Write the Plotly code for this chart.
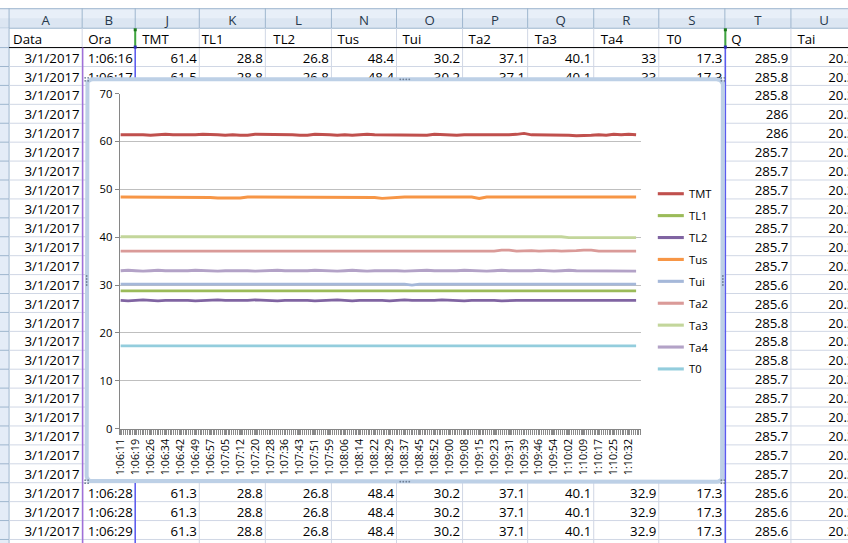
import numpy as np
import plotly.graph_objects as go

W, H = 848, 543

# ---------------- chart data ----------------
tick_labels = ["1:06:11", "1:06:19", "1:06:26", "1:06:34", "1:06:42", "1:06:49", "1:06:57",
               "1:07:05", "1:07:12", "1:07:20", "1:07:28", "1:07:36", "1:07:43", "1:07:51",
               "1:07:59", "1:08:06", "1:08:14", "1:08:22", "1:08:29", "1:08:37", "1:08:45",
               "1:08:52", "1:09:00", "1:09:08", "1:09:15", "1:09:23", "1:09:31", "1:09:39",
               "1:09:46", "1:09:54", "1:10:02", "1:10:09", "1:10:17", "1:10:25", "1:10:32"]
n_categories = 279      # one category per logged row
label_every = 8         # Excel shows every 8th category label
sample_every = 4        # values every 4th category

TMT = [61.4, 61.4, 61.5, 61.4, 61.3, 61.4, 61.5, 61.4, 61.4, 61.3,
       61.4, 61.5, 61.5, 61.4, 61.3, 61.4, 61.3, 61.3, 61.5, 61.5,
       61.4, 61.4, 61.5, 61.4, 61.3, 61.3, 61.5, 61.5, 61.4, 61.3,
       61.4, 61.3, 61.4, 61.5, 61.4, 61.4, 61.3, 61.4, 61.4, 61.4,
       61.3, 61.3, 61.5, 61.4, 61.3, 61.3, 61.4, 61.4, 61.3, 61.3,
       61.3, 61.3, 61.4, 61.5, 61.7, 61.4, 61.4, 61.3, 61.3, 61.3,
       61.3, 61.2, 61.2, 61.3, 61.4, 61.3, 61.5, 61.4, 61.5, 61.4]
TL1 = [28.8, 28.8, 28.9, 28.8, 28.8, 28.8, 28.9, 28.8, 28.8, 28.8,
       28.8, 28.8, 28.8, 28.8, 28.8, 28.8, 28.8, 28.8, 28.8, 28.8,
       28.8, 28.8, 28.8, 28.8, 28.8, 28.8, 28.8, 28.8, 28.8, 28.8,
       28.8, 28.8, 28.8, 28.8, 28.8, 28.8, 28.9, 28.8, 28.8, 28.8,
       28.8, 28.8, 28.8, 28.8, 28.8, 28.8, 28.9, 28.8, 28.8, 28.8,
       28.8, 28.8, 28.8, 28.8, 28.8, 28.9, 28.8, 28.8, 28.8, 28.8,
       28.8, 28.8, 28.8, 28.8, 28.9, 28.8, 28.8, 28.9, 28.8, 28.8]
TL2 = [26.8, 26.7, 26.8, 26.9, 26.8, 26.7, 26.8, 26.8, 26.9, 26.8,
       26.7, 26.8, 26.8, 26.9, 26.8, 26.8, 26.7, 26.8, 26.9, 26.8,
       26.8, 26.7, 26.8, 26.8, 26.9, 26.8, 26.7, 26.8, 26.8, 26.9,
       26.8, 26.7, 26.8, 26.8, 26.9, 26.8, 26.7, 26.8, 26.9, 26.8,
       26.8, 26.7, 26.8, 26.9, 26.8, 26.8, 26.7, 26.8, 26.8, 26.9,
       26.8, 26.7, 26.8, 26.8, 26.8, 26.8, 26.8, 26.8, 26.8, 26.8,
       26.8, 26.8, 26.8, 26.8, 26.8, 26.8, 26.8, 26.7, 26.7, 26.8]
Tus = [48.4, 48.4, 48.4, 48.4, 48.4, 48.4, 48.4, 48.4, 48.4, 48.4,
       48.4, 48.4, 48.3, 48.2, 48.2, 48.2, 48.2, 48.4, 48.4, 48.4,
       48.4, 48.4, 48.4, 48.4, 48.4, 48.4, 48.4, 48.4, 48.4, 48.3,
       48.3, 48.3, 48.3, 48.3, 48.3, 48.1, 48.2, 48.4, 48.4, 48.4,
       48.4, 48.4, 48.4, 48.4, 48.4, 48.4, 48.4, 48.4, 48.1, 48.4,
       48.4, 48.4, 48.4, 48.4, 48.4, 48.4, 48.4, 48.4, 48.4, 48.4,
       48.4, 48.4, 48.4, 48.4, 48.4, 48.4, 48.4, 48.4, 48.4, 48.4]
Tui = [30.2, 30.2, 30.2, 30.2, 30.2, 30.2, 30.2, 30.2, 30.2, 30.2,
       30.2, 30.2, 30.2, 30.2, 30.2, 30.2, 30.2, 30.2, 30.2, 30.2,
       30.2, 30.2, 30.2, 30.2, 30.2, 30.2, 30.2, 30.2, 30.2, 30.2,
       30.2, 30.2, 30.2, 30.2, 30.2, 30.2, 30.2, 30.2, 30.2, 30.0,
       30.2, 30.2, 30.2, 30.2, 30.2, 30.2, 30.2, 30.2, 30.2, 30.2,
       30.2, 30.2, 30.2, 30.2, 30.2, 30.2, 30.2, 30.2, 30.2, 30.2,
       30.2, 30.2, 30.2, 30.2, 30.2, 30.2, 30.2, 30.2, 30.2, 30.2]
Ta2 = [37.1, 37.1, 37.1, 37.1, 37.1, 37.1, 37.1, 37.1, 37.1, 37.1,
       37.1, 37.1, 37.1, 37.1, 37.1, 37.1, 37.1, 37.0, 37.1, 37.1,
       37.1, 37.1, 37.1, 37.1, 37.1, 37.1, 37.1, 37.1, 37.1, 37.1,
       37.1, 37.1, 37.1, 37.1, 37.1, 37.1, 37.1, 37.1, 37.1, 37.1,
       37.1, 37.1, 37.1, 37.1, 37.1, 37.1, 37.1, 37.1, 37.1, 37.1,
       37.1, 37.3, 37.3, 37.1, 37.2, 37.2, 37.1, 37.2, 37.2, 37.1,
       37.1, 37.2, 37.3, 37.3, 37.1, 37.1, 37.1, 37.1, 37.1, 37.1]
Ta3 = [40.1, 40.1, 40.1, 40.1, 40.1, 40.1, 40.1, 40.1, 40.1, 40.1,
       40.1, 40.1, 40.1, 40.1, 40.1, 40.1, 40.1, 40.1, 40.1, 40.1,
       40.1, 40.1, 40.1, 40.1, 40.1, 40.1, 40.1, 40.1, 40.1, 40.1,
       40.1, 40.1, 40.1, 40.1, 40.1, 40.1, 40.1, 40.1, 40.1, 40.1,
       40.1, 40.1, 40.1, 40.1, 40.1, 40.1, 40.1, 40.1, 40.1, 40.1,
       40.1, 40.1, 40.1, 40.1, 40.1, 40.1, 40.1, 40.1, 40.0, 40.1,
       39.9, 39.9, 39.9, 39.9, 39.9, 39.9, 39.9, 39.9, 39.9, 39.9]
Ta4 = [33.0, 33.1, 33.0, 32.9, 33.0, 33.1, 33.0, 33.0, 32.9, 33.0,
       33.1, 33.0, 33.0, 32.9, 33.0, 33.0, 33.1, 33.0, 32.9, 33.0,
       33.0, 33.1, 33.0, 33.0, 32.9, 33.0, 33.1, 33.0, 33.0, 32.9,
       33.0, 33.1, 33.0, 32.9, 33.0, 33.0, 33.1, 33.0, 32.9, 33.0,
       33.0, 33.1, 33.0, 33.0, 32.9, 33.0, 33.1, 33.0, 33.0, 32.9,
       33.0, 33.1, 33.0, 33.0, 32.9, 33.0, 33.1, 33.0, 32.9, 33.0,
       33.1, 33.0, 33.0, 32.9, 32.9, 32.9, 32.9, 32.9, 32.9, 32.9]
T0 = [17.3, 17.3, 17.3, 17.3, 17.3, 17.3, 17.3, 17.3, 17.3, 17.3,
      17.3, 17.3, 17.3, 17.3, 17.3, 17.3, 17.3, 17.3, 17.3, 17.3,
      17.3, 17.3, 17.3, 17.3, 17.3, 17.3, 17.3, 17.3, 17.3, 17.3,
      17.3, 17.3, 17.3, 17.3, 17.3, 17.3, 17.3, 17.3, 17.3, 17.3,
      17.3, 17.3, 17.3, 17.3, 17.3, 17.3, 17.3, 17.3, 17.3, 17.3,
      17.3, 17.3, 17.3, 17.3, 17.3, 17.3, 17.3, 17.3, 17.3, 17.3,
      17.3, 17.3, 17.3, 17.3, 17.3, 17.3, 17.3, 17.3, 17.3, 17.3]

series_names = ["TMT", "TL1", "TL2", "Tus", "Tui", "Ta2", "Ta3", "Ta4", "T0"]
series_values = [TMT, TL1, TL2, Tus, Tui, Ta2, Ta3, Ta4, T0]
series_colors = ["#C0504D", "#9BBB59", "#8064A2", "#F79646", "#A5B8D9",
                 "#DA9A98", "#C3D69B", "#B3A2C7", "#93CDDD"]

sample_idx = list(range(0, n_categories, sample_every))[:len(TMT)]
tick_idx = list(range(0, label_every * len(tick_labels), label_every))

# ---------------- spreadsheet data ----------------
col_letters = ["A", "B", "J", "K", "L", "N", "O", "P", "Q", "R", "S", "T", "U"]
col_headers = ["Data", "Ora", "TMT", "TL1", "TL2", "Tus", "Tui", "Ta2", "Ta3", "Ta4", "T0", "Q", "Tai"]
date_text = "3/1/2017"
top_rows = [
    ["1:06:16", "61.4", "28.8", "26.8", "48.4", "30.2", "37.1", "40.1", "33", "17.3"],
    ["1:06:17", "61.5", "28.8", "26.8", "48.4", "30.2", "37.1", "40.1", "33", "17.3"],
]
bottom_rows = [
    ["1:06:28", "61.3", "28.8", "26.8", "48.4", "30.2", "37.1", "40.1", "32.9", "17.3"],
    ["1:06:28", "61.3", "28.8", "26.8", "48.4", "30.2", "37.1", "40.1", "32.9", "17.3"],
    ["1:06:29", "61.3", "28.8", "26.8", "48.4", "30.2", "37.1", "40.1", "32.9", "17.3"],
]
col_T = ["285.9", "285.8", "285.8", "286", "286", "285.7", "285.7", "285.7", "285.7",
         "285.7", "285.7", "285.7", "285.6", "285.6", "285.8", "285.8", "285.8", "285.7",
         "285.7", "285.7", "285.7", "285.7", "285.7", "285.6", "285.6", "285.6"]
col_U = ["20.3", "20.3", "20.3", "20.3", "20.3", "20.3", "20.3", "20.3", "20.3",
         "20.3", "20.3", "20.3", "20.3", "20.3", "20.3", "20.3", "20.3", "20.3",
         "20.3", "20.3", "20.3", "20.3", "20.3", "20.3", "20.3", "20.3"]

# ---------------- geometry (screen pixels) ----------------
col_edges = [10, 83, 136, 200, 266, 332, 397, 463, 528, 594, 659, 725, 791, 857]
header_pad = [4, 6, 7, 2.5, 8, 6, 6, 6, 7, 7, 8, 6.5, 6.5]
bar_top, bar_bot = 8, 28
hdr_bot = 47.3
row_h = 18.9
n_rows = 26
box = (87.5, 79, 723, 481)          # chart frame centre line
plot_l, plot_r, plot_t, plot_b = 120.5, 641, 93.3, 428

# the page is shown with an 8px body margin and fitted back to 848x543:
# map wanted screen pixels to figure pixels
OFF = 8
SX = (W + OFF) / W
SY = (H + 2 * OFF) / H
FS = 1.02  # font compensation for the fit


def X(s):
    return (s * SX - OFF) / W


def Y(s):
    return 1 - (s * SY - OFF) / H


GRID = "#d0d7e5"
HDR_LINE = "#9eb6ce"
shapes = []


def rect(x0, y0, x1, y1, fill):
    shapes.append(dict(type="rect", xref="paper", yref="paper", layer="below",
                       x0=X(x0), x1=X(x1), y0=Y(y0), y1=Y(y1),
                       fillcolor=fill, line=dict(width=0)))


def seg(x0, y0, x1, y1, color, width=1, layer="below"):
    shapes.append(dict(type="line", xref="paper", yref="paper", layer=layer,
                       x0=X(x0), x1=X(x1), y0=Y(y0), y1=Y(y1),
                       line=dict(color=color, width=width)))


# column header bar
rect(0, bar_top, W + 20, bar_bot, "#dce6f2")
rect(0, bar_top, W + 20, (bar_top + bar_bot) / 2, "#e8eff8")
seg(0, bar_top + 0.5, W + 20, bar_top + 0.5, HDR_LINE)
seg(0, bar_bot, W + 20, bar_bot, HDR_LINE)
for e in col_edges:
    seg(e, bar_top, e, bar_bot, HDR_LINE)
# row header strip
rect(0, bar_bot, col_edges[0], H + 20, "#e4ecf7")
seg(col_edges[0], bar_bot, col_edges[0], H + 20, HDR_LINE)
# cell grid
row_lines = [hdr_bot + row_h * k for k in range(n_rows + 1)]
for yv in row_lines:
    seg(0, yv, col_edges[0], yv, HDR_LINE)
    seg(col_edges[0], yv, W + 20, yv, GRID)
for e in col_edges[1:]:
    seg(e, bar_bot, e, H + 20, GRID)
seg(col_edges[0], hdr_bot, W + 20, hdr_bot, "#000000", 1)
# chart source-range highlights
seg(83.5, hdr_bot, 83.5, H + 20, "#a070d8", 1.5)
seg(136, hdr_bot, 136, H + 20, "#5a5af0", 1.5)
seg(725.5, hdr_bot, 725.5, H + 20, "#5a5af0", 1.5)
seg(136, bar_bot + 1, 136, hdr_bot - 1, "#3fa53f", 2)
seg(725.5, bar_bot + 1, 725.5, hdr_bot - 1, "#3fa53f", 2)
for xx in (136, 725.5):
    rect(xx - 1.5, bar_bot, xx + 1.5, bar_bot + 3, "#1b7a1b")
    rect(xx - 1.5, hdr_bot - 2, xx + 1.5, hdr_bot + 1, "#2d2db0")

fig = go.Figure()

# ---------------- spreadsheet text (subplot xy, screen-pixel axes) ----------------
tx, ty, tt, tp = [], [], [], []


def row_y(r):
    return hdr_bot + row_h * (r + 0.5) + 2.3


for c, name in enumerate(col_headers):
    tx.append(col_edges[c] + header_pad[c]); ty.append((bar_bot + hdr_bot) / 2 + 3)
    tt.append(name); tp.append("middle right")
for r in range(n_rows):
    tx.append(col_edges[1] - 2.5); ty.append(row_y(r)); tt.append(date_text); tp.append("middle left")
    tx.append(col_edges[12] - 2.5); ty.append(row_y(r)); tt.append(col_T[r]); tp.append("middle left")
    tx.append(col_edges[13] - 2.5); ty.append(row_y(r)); tt.append(col_U[r]); tp.append("middle left")
visible_rows = {0: top_rows[0], 1: top_rows[1], 23: bottom_rows[0], 24: bottom_rows[1], 25: bottom_rows[2]}
for r, vals in visible_rows.items():
    for k, v in enumerate(vals):
        c = k + 1
        tx.append(col_edges[c + 1] - 2.5); ty.append(row_y(r)); tt.append(v); tp.append("middle left")

fig.add_trace(go.Scatter(x=tx, y=ty, text=tt, textposition=tp, mode="text",
                         textfont=dict(family="Open Sans", size=13 * FS, color="#000000"),
                         xaxis="x", yaxis="y", hoverinfo="skip", showlegend=False))
fig.add_trace(go.Scatter(x=[(col_edges[c] + col_edges[c + 1]) / 2 for c in range(len(col_letters))],
                         y=[(bar_top + bar_bot) / 2 + 3.5] * len(col_letters),
                         text=col_letters, mode="text", textposition="middle center",
                         textfont=dict(family="Open Sans", size=13 * FS, color="#27384c"),
                         xaxis="x", yaxis="y", hoverinfo="skip", showlegend=False))


# chart frame (drawn above the sheet text, below the chart subplot)
def rounded_rect(x0, y0, x1, y1, r):
    xs, ys = [], []
    for cx_, cy_, a0 in ((x1 - r, y0 + r, -90), (x1 - r, y1 - r, 0), (x0 + r, y1 - r, 90), (x0 + r, y0 + r, 180)):
        for a in np.linspace(a0, a0 + 90, 7):
            xs.append(cx_ + r * np.cos(np.radians(a)))
            ys.append(cy_ + r * np.sin(np.radians(a)))
    xs.append(xs[0]); ys.append(ys[0])
    return xs, ys


bx, by = rounded_rect(*box, 6)
fig.add_trace(go.Scatter(x=bx, y=by, mode="lines", fill="toself", fillcolor="#ffffff",
                         line=dict(color="#bdd0e6", width=4), xaxis="x", yaxis="y",
                         hoverinfo="skip", showlegend=False))
# frame grips
gx, gy = [], []
midx, midy = (box[0] + box[2]) / 2, (box[1] + box[3]) / 2
for d in (-4.5, -1.5, 1.5, 4.5):
    gx += [midx + d, midx + d, box[0], box[2]]
    gy += [box[1], box[3], midy + d, midy + d]
for (ex, ey) in ((box[0], box[1]), (box[2], box[1]), (box[0], box[3]), (box[2], box[3])):
    for ddx in (-1.5, 1.5):
        for ddy in (-1.5, 1.5):
            gx.append(ex + ddx); gy.append(ey + ddy)
fig.add_trace(go.Scatter(x=gx, y=gy, mode="markers", marker=dict(size=1.8, color="#6f7f95"),
                         xaxis="x", yaxis="y", hoverinfo="skip", showlegend=False))

# ---------------- chart series ----------------
for name, vals, col in zip(series_names, series_values, series_colors):
    fig.add_trace(go.Scatter(x=sample_idx, y=vals, name=name, mode="lines",
                             line=dict(color=col, width=2.85),
                             xaxis="x2", yaxis="y2", showlegend=False))

# manual legend (Excel style)
annotations = []
for k, (name, col) in enumerate(zip(series_names, series_colors)):
    yy = 193.3 + 21.88 * k
    seg(658, yy, 684, yy, col, 3.1, layer="above")
    annotations.append(dict(xref="paper", yref="paper", x=X(687), y=Y(yy), text=name,
                            xanchor="left", yanchor="middle", showarrow=False,
                            font=dict(family="Open Sans", size=11 * FS, color="#000000")))

AX = "#868686"
fig.update_layout(
    width=W, height=H, margin=dict(l=0, r=0, t=0, b=0),
    paper_bgcolor="#ffffff", plot_bgcolor="rgba(0,0,0,0)", showlegend=False,
    xaxis=dict(domain=[0, 1], range=[OFF / SX, (W + OFF) / SX], visible=False, fixedrange=True),
    yaxis=dict(domain=[0, 1], range=[(H + OFF) / SY, OFF / SY], visible=False, fixedrange=True),
    xaxis2=dict(domain=[X(plot_l), X(plot_r)], range=[-0.5, n_categories - 0.5], anchor="y2",
                showgrid=False, zeroline=False, showline=True, linecolor=AX, linewidth=1,
                tickmode="array", tickvals=tick_idx, ticktext=tick_labels, tickangle=-90,
                ticks="outside", ticklen=5, tickcolor="#8a8a8a", tickwidth=1,
                tickfont=dict(family="Open Sans", size=10.5 * FS, color="#000000"),
                minor=dict(ticks="outside", ticklen=5, tickcolor="#8a8a8a", tickwidth=1,
                           tickmode="linear", tick0=-0.5, dtick=1, showgrid=False)),
    yaxis2=dict(domain=[Y(plot_b), Y(plot_t)], range=[0, 70], anchor="x2",
                tickmode="linear", tick0=0, dtick=10,
                showgrid=True, gridcolor="#bfbfbf", gridwidth=1, zeroline=False,
                showline=True, linecolor=AX, linewidth=1,
                ticks="outside", ticklen=4, tickcolor=AX,
                tickfont=dict(family="Open Sans", size=11 * FS, color="#000000")),
    shapes=shapes, annotations=annotations,
)

fig.write_html("out.html")
